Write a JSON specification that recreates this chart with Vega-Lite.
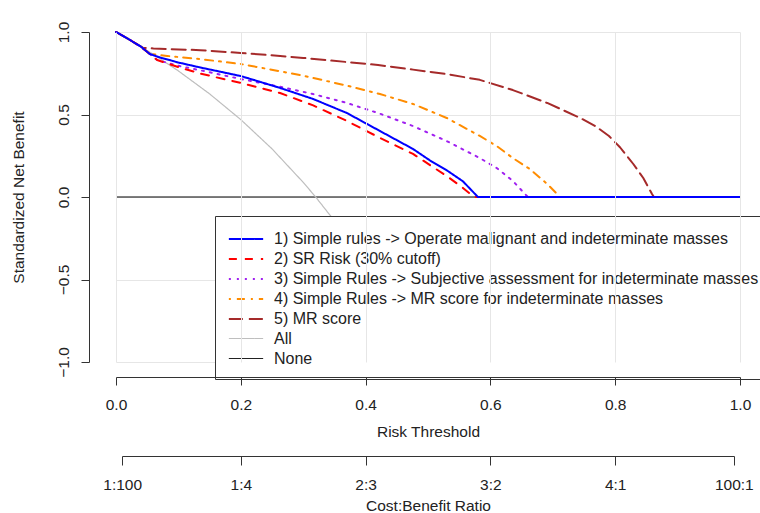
{
  "$schema": "https://vega.github.io/schema/vega-lite/v6.json",
  "autosize": {"type": "none"},
  "padding": {"left": 116, "top": 32, "right": 20, "bottom": 151},
  "width": 624,
  "height": 330,
  "background": "white",
  "config": {
    "view": {"stroke": null},
    "font": "Liberation Sans",
    "axis": {
      "labelFont": "Liberation Sans", "titleFont": "Liberation Sans",
      "labelFontSize": 15.5, "titleFontSize": 15.5, "titleFontWeight": "normal",
      "labelColor": "#222", "titleColor": "#222", "labelFlush": false, "labelOverlap": false,
      "domainColor": "#333", "tickColor": "#333", "domainWidth": 1, "tickWidth": 1,
      "gridColor": "#e6e6e6", "gridWidth": 1, "tickSize": 8
    },
    "legend": {
      "orient": "none", "legendX": 99, "legendY": 184,
      "strokeColor": "#333", "fillColor": "#ffffff", "padding": 12,
      "symbolType": "M-1.75,0H1.75", "symbolSize": 384,
      "symbolOffset": 8, "labelOffset": 17,
      "labelFont": "Liberation Sans", "labelFontSize": 16, "labelColor": "#222",
      "labelLimit": 1000, "rowPadding": 1, "zindex": 5
    }
  },
  "data": {"values": [
    {"s": "None", "t": 0, "v": 0}, {"s": "None", "t": 1, "v": 0},
    {"s": "All", "t": 0, "v": 1}, {"s": "All", "t": 0.02, "v": 0.957}, {"s": "All", "t": 0.04, "v": 0.911}, {"s": "All", "t": 0.06, "v": 0.864}, {"s": "All", "t": 0.1, "v": 0.764}, {"s": "All", "t": 0.15, "v": 0.625}, {"s": "All", "t": 0.2, "v": 0.469}, {"s": "All", "t": 0.25, "v": 0.292}, {"s": "All", "t": 0.3, "v": 0.089}, {"s": "All", "t": 0.32, "v": 0}, {"s": "All", "t": 0.35, "v": -0.144}, {"s": "All", "t": 0.4, "v": -0.417}, {"s": "All", "t": 0.45, "v": -0.739}, {"s": "All", "t": 0.485, "v": -1.0},
    {"s": "5) MR score", "t": 0, "v": 1}, {"s": "5) MR score", "t": 0.02, "v": 0.957}, {"s": "5) MR score", "t": 0.043, "v": 0.905}, {"s": "5) MR score", "t": 0.06, "v": 0.9}, {"s": "5) MR score", "t": 0.135, "v": 0.89}, {"s": "5) MR score", "t": 0.2, "v": 0.873}, {"s": "5) MR score", "t": 0.263, "v": 0.855}, {"s": "5) MR score", "t": 0.3, "v": 0.843}, {"s": "5) MR score", "t": 0.37, "v": 0.818}, {"s": "5) MR score", "t": 0.42, "v": 0.8}, {"s": "5) MR score", "t": 0.476, "v": 0.772}, {"s": "5) MR score", "t": 0.53, "v": 0.745}, {"s": "5) MR score", "t": 0.583, "v": 0.71}, {"s": "5) MR score", "t": 0.636, "v": 0.648}, {"s": "5) MR score", "t": 0.691, "v": 0.57}, {"s": "5) MR score", "t": 0.744, "v": 0.479}, {"s": "5) MR score", "t": 0.768, "v": 0.43}, {"s": "5) MR score", "t": 0.79, "v": 0.37}, {"s": "5) MR score", "t": 0.808, "v": 0.3}, {"s": "5) MR score", "t": 0.829, "v": 0.2}, {"s": "5) MR score", "t": 0.845, "v": 0.115}, {"s": "5) MR score", "t": 0.859, "v": 0.018}, {"s": "5) MR score", "t": 0.862, "v": 0}, {"s": "5) MR score", "t": 1, "v": 0},
    {"s": "4) Simple Rules -> MR score for indeterminate masses", "t": 0, "v": 1}, {"s": "4) Simple Rules -> MR score for indeterminate masses", "t": 0.02, "v": 0.957}, {"s": "4) Simple Rules -> MR score for indeterminate masses", "t": 0.04, "v": 0.911}, {"s": "4) Simple Rules -> MR score for indeterminate masses", "t": 0.054, "v": 0.867}, {"s": "4) Simple Rules -> MR score for indeterminate masses", "t": 0.082, "v": 0.855}, {"s": "4) Simple Rules -> MR score for indeterminate masses", "t": 0.135, "v": 0.836}, {"s": "4) Simple Rules -> MR score for indeterminate masses", "t": 0.2, "v": 0.806}, {"s": "4) Simple Rules -> MR score for indeterminate masses", "t": 0.263, "v": 0.762}, {"s": "4) Simple Rules -> MR score for indeterminate masses", "t": 0.3, "v": 0.735}, {"s": "4) Simple Rules -> MR score for indeterminate masses", "t": 0.37, "v": 0.675}, {"s": "4) Simple Rules -> MR score for indeterminate masses", "t": 0.423, "v": 0.624}, {"s": "4) Simple Rules -> MR score for indeterminate masses", "t": 0.476, "v": 0.564}, {"s": "4) Simple Rules -> MR score for indeterminate masses", "t": 0.53, "v": 0.479}, {"s": "4) Simple Rules -> MR score for indeterminate masses", "t": 0.583, "v": 0.37}, {"s": "4) Simple Rules -> MR score for indeterminate masses", "t": 0.61, "v": 0.309}, {"s": "4) Simple Rules -> MR score for indeterminate masses", "t": 0.636, "v": 0.236}, {"s": "4) Simple Rules -> MR score for indeterminate masses", "t": 0.663, "v": 0.17}, {"s": "4) Simple Rules -> MR score for indeterminate masses", "t": 0.691, "v": 0.079}, {"s": "4) Simple Rules -> MR score for indeterminate masses", "t": 0.707, "v": 0.018}, {"s": "4) Simple Rules -> MR score for indeterminate masses", "t": 0.71, "v": 0}, {"s": "4) Simple Rules -> MR score for indeterminate masses", "t": 1, "v": 0},
    {"s": "3) Simple Rules -> Subjective assessment for indeterminate masses", "t": 0, "v": 1}, {"s": "3) Simple Rules -> Subjective assessment for indeterminate masses", "t": 0.02, "v": 0.957}, {"s": "3) Simple Rules -> Subjective assessment for indeterminate masses", "t": 0.04, "v": 0.911}, {"s": "3) Simple Rules -> Subjective assessment for indeterminate masses", "t": 0.066, "v": 0.83}, {"s": "3) Simple Rules -> Subjective assessment for indeterminate masses", "t": 0.1, "v": 0.795}, {"s": "3) Simple Rules -> Subjective assessment for indeterminate masses", "t": 0.135, "v": 0.768}, {"s": "3) Simple Rules -> Subjective assessment for indeterminate masses", "t": 0.2, "v": 0.715}, {"s": "3) Simple Rules -> Subjective assessment for indeterminate masses", "t": 0.263, "v": 0.668}, {"s": "3) Simple Rules -> Subjective assessment for indeterminate masses", "t": 0.316, "v": 0.624}, {"s": "3) Simple Rules -> Subjective assessment for indeterminate masses", "t": 0.37, "v": 0.57}, {"s": "3) Simple Rules -> Subjective assessment for indeterminate masses", "t": 0.423, "v": 0.505}, {"s": "3) Simple Rules -> Subjective assessment for indeterminate masses", "t": 0.476, "v": 0.43}, {"s": "3) Simple Rules -> Subjective assessment for indeterminate masses", "t": 0.53, "v": 0.339}, {"s": "3) Simple Rules -> Subjective assessment for indeterminate masses", "t": 0.583, "v": 0.236}, {"s": "3) Simple Rules -> Subjective assessment for indeterminate masses", "t": 0.61, "v": 0.176}, {"s": "3) Simple Rules -> Subjective assessment for indeterminate masses", "t": 0.636, "v": 0.097}, {"s": "3) Simple Rules -> Subjective assessment for indeterminate masses", "t": 0.655, "v": 0.02}, {"s": "3) Simple Rules -> Subjective assessment for indeterminate masses", "t": 0.66, "v": 0}, {"s": "3) Simple Rules -> Subjective assessment for indeterminate masses", "t": 1, "v": 0},
    {"s": "2) SR Risk (30% cutoff)", "t": 0, "v": 1}, {"s": "2) SR Risk (30% cutoff)", "t": 0.02, "v": 0.957}, {"s": "2) SR Risk (30% cutoff)", "t": 0.04, "v": 0.911}, {"s": "2) SR Risk (30% cutoff)", "t": 0.066, "v": 0.83}, {"s": "2) SR Risk (30% cutoff)", "t": 0.1, "v": 0.787}, {"s": "2) SR Risk (30% cutoff)", "t": 0.135, "v": 0.748}, {"s": "2) SR Risk (30% cutoff)", "t": 0.2, "v": 0.691}, {"s": "2) SR Risk (30% cutoff)", "t": 0.263, "v": 0.63}, {"s": "2) SR Risk (30% cutoff)", "t": 0.316, "v": 0.555}, {"s": "2) SR Risk (30% cutoff)", "t": 0.37, "v": 0.461}, {"s": "2) SR Risk (30% cutoff)", "t": 0.423, "v": 0.358}, {"s": "2) SR Risk (30% cutoff)", "t": 0.476, "v": 0.261}, {"s": "2) SR Risk (30% cutoff)", "t": 0.53, "v": 0.127}, {"s": "2) SR Risk (30% cutoff)", "t": 0.556, "v": 0.055}, {"s": "2) SR Risk (30% cutoff)", "t": 0.574, "v": 0}, {"s": "2) SR Risk (30% cutoff)", "t": 1, "v": 0},
    {"s": "1) Simple rules -> Operate malignant and indeterminate masses", "t": 0, "v": 1}, {"s": "1) Simple rules -> Operate malignant and indeterminate masses", "t": 0.02, "v": 0.957}, {"s": "1) Simple rules -> Operate malignant and indeterminate masses", "t": 0.04, "v": 0.911}, {"s": "1) Simple rules -> Operate malignant and indeterminate masses", "t": 0.054, "v": 0.867}, {"s": "1) Simple rules -> Operate malignant and indeterminate masses", "t": 0.071, "v": 0.845}, {"s": "1) Simple rules -> Operate malignant and indeterminate masses", "t": 0.1, "v": 0.815}, {"s": "1) Simple rules -> Operate malignant and indeterminate masses", "t": 0.135, "v": 0.785}, {"s": "1) Simple rules -> Operate malignant and indeterminate masses", "t": 0.2, "v": 0.733}, {"s": "1) Simple rules -> Operate malignant and indeterminate masses", "t": 0.263, "v": 0.661}, {"s": "1) Simple rules -> Operate malignant and indeterminate masses", "t": 0.316, "v": 0.594}, {"s": "1) Simple rules -> Operate malignant and indeterminate masses", "t": 0.37, "v": 0.509}, {"s": "1) Simple rules -> Operate malignant and indeterminate masses", "t": 0.423, "v": 0.4}, {"s": "1) Simple rules -> Operate malignant and indeterminate masses", "t": 0.476, "v": 0.291}, {"s": "1) Simple rules -> Operate malignant and indeterminate masses", "t": 0.503, "v": 0.222}, {"s": "1) Simple rules -> Operate malignant and indeterminate masses", "t": 0.53, "v": 0.162}, {"s": "1) Simple rules -> Operate malignant and indeterminate masses", "t": 0.556, "v": 0.095}, {"s": "1) Simple rules -> Operate malignant and indeterminate masses", "t": 0.58, "v": 0}, {"s": "1) Simple rules -> Operate malignant and indeterminate masses", "t": 1, "v": 0}
  ]},
  "layer": [
    {
      "transform": [{"filter": "datum.s == 'None'"}],
      "mark": {"type": "line"},
      "encoding": {
        "x": {"field": "t", "type": "quantitative", "scale": {"domain": [0, 1]},
              "axis": {"orient": "bottom", "offset": 94, "grid": false, "tickSize": 9,
                       "values": [0.0099, 0.2, 0.4, 0.6, 0.8, 0.9901],
                       "labelExpr": "datum.value < 0.1 ? '1:100' : datum.value < 0.3 ? '1:4' : datum.value < 0.5 ? '2:3' : datum.value < 0.7 ? '3:2' : datum.value < 0.9 ? '4:1' : '100:1'",
                       "domainDash": [0, 6, 612, 100], "labelPadding": 12, "titlePadding": 6,
                       "title": "Cost:Benefit Ratio", "zindex": 6}},
        "y": {"field": "v", "type": "quantitative", "scale": {"domain": [-1, 1]},
              "axis": {"offset": 27, "values": [-1, -0.5, 0, 0.5, 1], "format": ".1f", "labelAngle": 270,
                       "labelPadding": 10, "titlePadding": 30, "grid": true, "title": "Standardized Net Benefit"}},
        "color": {"field": "s", "type": "nominal", "title": null,
                  "legend": {"zindex": 5, "fillColor": "#ffffff"},
                  "scale": {"domain": ["1) Simple rules -> Operate malignant and indeterminate masses", "2) SR Risk (30% cutoff)", "3) Simple Rules -> Subjective assessment for indeterminate masses", "4) Simple Rules -> MR score for indeterminate masses", "5) MR score", "All", "None"],
                            "range": ["#0000ff", "#ff0000", "#a020f0", "#ff8c00", "#a52a2a", "#bebebe", "#000000"]}},
        "strokeDash": {"field": "s", "type": "nominal", "title": null,
                  "legend": {"zindex": 5, "fillColor": "#ffffff"},
                  "scale": {"domain": ["1) Simple rules -> Operate malignant and indeterminate masses", "2) SR Risk (30% cutoff)", "3) Simple Rules -> Subjective assessment for indeterminate masses", "4) Simple Rules -> MR score for indeterminate masses", "5) MR score", "All", "None"],
                            "range": [[1, 0], [8, 8], [2, 6], [2, 6, 8, 6], [14, 6], [1, 0], [1, 0]]}},
        "strokeWidth": {"field": "s", "type": "nominal", "title": null,
                  "legend": {"zindex": 5, "fillColor": "#ffffff"},
                  "scale": {"type": "ordinal", "domain": ["1) Simple rules -> Operate malignant and indeterminate masses", "2) SR Risk (30% cutoff)", "3) Simple Rules -> Subjective assessment for indeterminate masses", "4) Simple Rules -> MR score for indeterminate masses", "5) MR score", "All", "None"],
                            "range": [2, 2, 2, 2, 2, 1.2, 1]}}
      }
    },
    {
      "transform": [{"filter": "datum.s != 'None'"}],
      "mark": {"type": "line", "strokeCap": "round", "strokeJoin": "round"},
      "encoding": {
        "x": {"field": "t", "type": "quantitative", "scale": {"domain": [0, 1]},
              "axis": {"orient": "bottom", "offset": 15, "grid": true, "values": [0, 0.2, 0.4, 0.6, 0.8, 1], "format": ".1f",
                       "labelPadding": 12, "titlePadding": 12, "title": "Risk Threshold", "zindex": 6}},
        "y": {"field": "v", "type": "quantitative", "scale": {"domain": [-1, 1]},
              "axis": {"offset": 27, "values": [-1, -0.5, 0, 0.5, 1], "format": ".1f", "labelAngle": 270,
                       "labelPadding": 10, "titlePadding": 30, "grid": true, "title": "Standardized Net Benefit"}},
        "color": {"field": "s", "type": "nominal", "title": null,
                  "legend": {"zindex": 5, "fillColor": "#ffffff"},
                  "scale": {"domain": ["1) Simple rules -> Operate malignant and indeterminate masses", "2) SR Risk (30% cutoff)", "3) Simple Rules -> Subjective assessment for indeterminate masses", "4) Simple Rules -> MR score for indeterminate masses", "5) MR score", "All", "None"],
                            "range": ["#0000ff", "#ff0000", "#a020f0", "#ff8c00", "#a52a2a", "#bebebe", "#000000"]}},
        "strokeDash": {"field": "s", "type": "nominal", "title": null,
                  "legend": {"zindex": 5, "fillColor": "#ffffff"},
                  "scale": {"domain": ["1) Simple rules -> Operate malignant and indeterminate masses", "2) SR Risk (30% cutoff)", "3) Simple Rules -> Subjective assessment for indeterminate masses", "4) Simple Rules -> MR score for indeterminate masses", "5) MR score", "All", "None"],
                            "range": [[1, 0], [8, 8], [2, 6], [2, 6, 8, 6], [14, 6], [1, 0], [1, 0]]}},
        "strokeWidth": {"field": "s", "type": "nominal", "title": null,
                  "legend": {"zindex": 5, "fillColor": "#ffffff"},
                  "scale": {"type": "ordinal", "domain": ["1) Simple rules -> Operate malignant and indeterminate masses", "2) SR Risk (30% cutoff)", "3) Simple Rules -> Subjective assessment for indeterminate masses", "4) Simple Rules -> MR score for indeterminate masses", "5) MR score", "All", "None"],
                            "range": [2, 2, 2, 2, 2, 1.2, 1]}}
      }
    }
  ],
  "resolve": {"scale": {"x": "independent"}}
}
